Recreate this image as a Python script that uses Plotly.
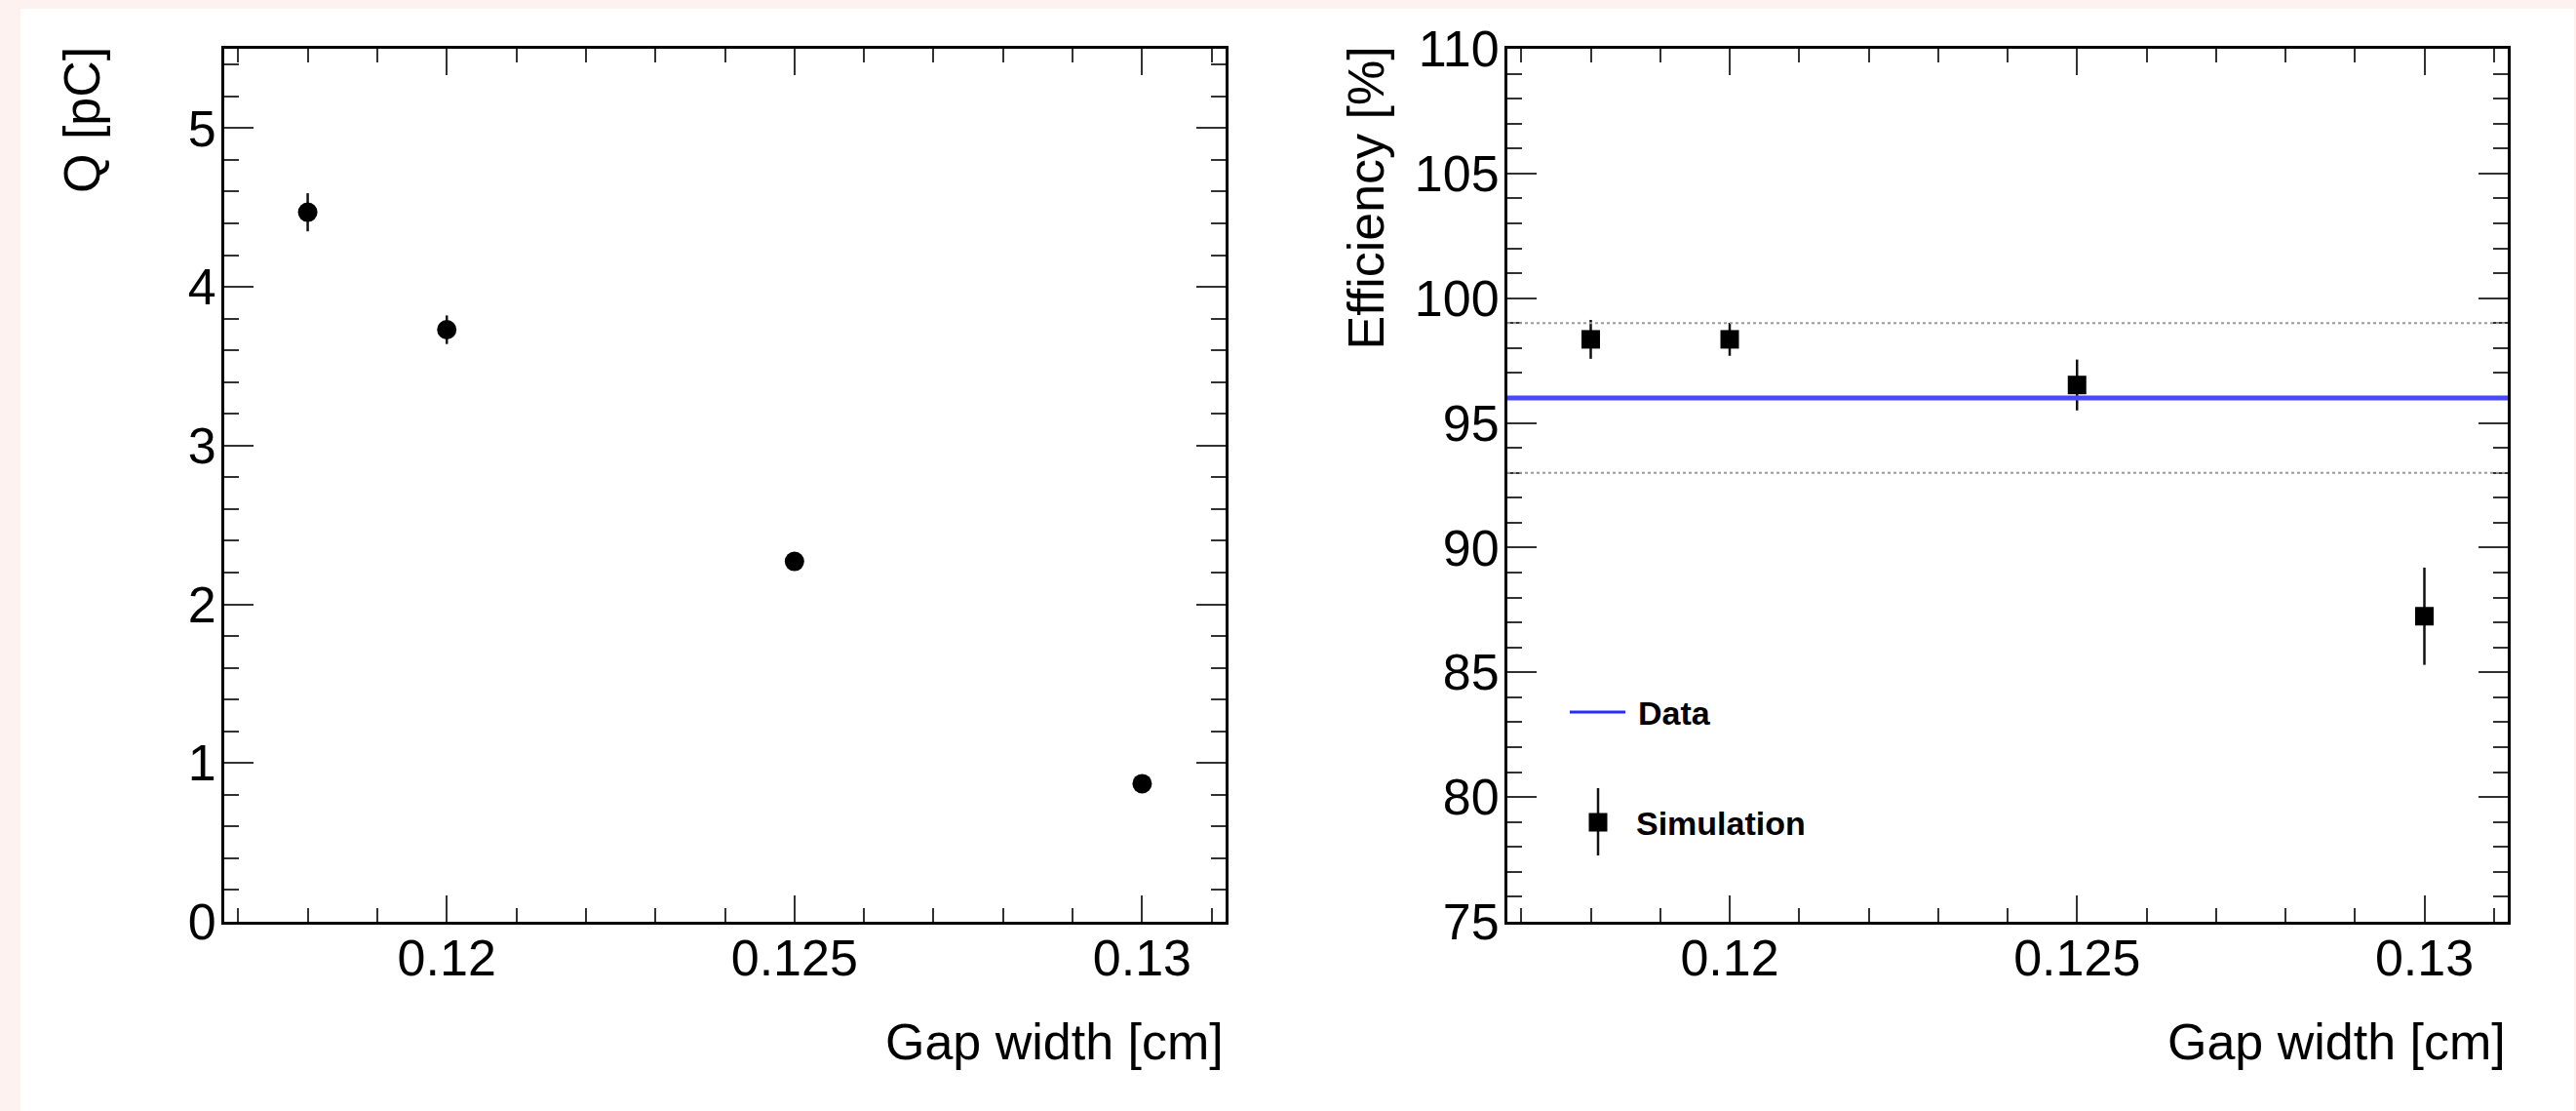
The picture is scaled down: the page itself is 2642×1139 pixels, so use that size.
import plotly.graph_objects as go

# ---------------- data ----------------
gap_width = [0.118, 0.120, 0.125, 0.130]          # cm
charge = [4.47, 3.73, 2.27, 0.87]                 # pC
charge_err = [0.12, 0.09, 0.04, 0.04]
sim_eff = [98.35, 98.35, 96.52, 87.25]            # %
sim_eff_err = [0.78, 0.66, 1.02, 1.95]
data_eff = 96.0                                    # measured efficiency [%]
data_eff_err = 3.0

x_range = [0.1168, 0.1312]
q_range = [0.0, 5.5]
eff_range = [75.0, 110.0]

W, H = 2642, 1139
FONT = "Liberation Sans, Arial, Helvetica, sans-serif"


def px(x):
    return x / W


def py(y):
    return (H - y) / H


fig = go.Figure()

# left panel: charge
fig.add_trace(go.Scatter(
    x=gap_width, y=charge, mode="markers",
    marker=dict(symbol="circle", size=20, color="black"),
    error_y=dict(type="data", array=charge_err, color="#111", thickness=2.5, width=0),
    xaxis="x", yaxis="y", showlegend=False))

# right panel: simulation efficiency
fig.add_trace(go.Scatter(
    x=gap_width, y=sim_eff, mode="markers",
    marker=dict(symbol="square", size=19, color="black"),
    error_y=dict(type="data", array=sim_eff_err, color="#111", thickness=2.5, width=0),
    xaxis="x2", yaxis="y2", showlegend=False))

axis_common = dict(
    showline=True, linecolor="black", linewidth=3, mirror="ticks",
    ticks="inside", tickcolor="#333", tickwidth=2,
    showgrid=False, zeroline=False, automargin=False,
    tickfont=dict(family=FONT, size=52, color="black"),
)

x_dom_l = [px(230), px(1257)]
x_dom_r = [px(1546), px(2572)]
y_dom = [py(945), py(50)]

fig.update_layout(
    template="none",
    width=W, height=H,
    margin=dict(l=0, r=0, t=0, b=0, pad=0, autoexpand=False),
    paper_bgcolor="#fdf2ef",
    plot_bgcolor="white",
    showlegend=False,
    xaxis=dict(domain=x_dom_l, range=x_range, anchor="y", dtick=0.005, tick0=0, ticklen=27,
               minor=dict(dtick=0.001, tick0=0, ticklen=14, ticks="inside", tickcolor="#333", tickwidth=2),
               ticklabelstandoff=-10, **axis_common),
    yaxis=dict(domain=y_dom, range=q_range, anchor="x", dtick=1, tick0=0, ticklen=30,
               minor=dict(dtick=0.2, tick0=0, ticklen=15, ticks="inside", tickcolor="#333", tickwidth=2),
               ticklabelstandoff=-5, **axis_common),
    xaxis2=dict(domain=x_dom_r, range=x_range, anchor="y2", dtick=0.005, tick0=0, ticklen=27,
                minor=dict(dtick=0.001, tick0=0, ticklen=14, ticks="inside", tickcolor="#333", tickwidth=2),
                ticklabelstandoff=-10, **axis_common),
    yaxis2=dict(domain=y_dom, range=eff_range, anchor="x2", dtick=5, tick0=0, ticklen=30,
                minor=dict(dtick=1, tick0=0, ticklen=15, ticks="inside", tickcolor="#333", tickwidth=2),
                ticklabelstandoff=-5, **axis_common),
)

shapes = [
    # white canvas inside the pink page border
    dict(type="rect", xref="paper", yref="paper", x0=px(21), x1=px(2640), y0=0, y1=py(9),
         fillcolor="white", line=dict(width=0), layer="below"),
    # data band limits (dotted)
    dict(type="line", xref="x2 domain", yref="y2", x0=0, x1=1,
         y0=data_eff + data_eff_err, y1=data_eff + data_eff_err,
         line=dict(color="#9a9a9a", width=2, dash="dot")),
    dict(type="line", xref="x2 domain", yref="y2", x0=0, x1=1,
         y0=data_eff - data_eff_err, y1=data_eff - data_eff_err,
         line=dict(color="#9a9a9a", width=2, dash="dot")),
    # data central value
    dict(type="line", xref="x2 domain", yref="y2", x0=0, x1=1,
         y0=data_eff, y1=data_eff, line=dict(color="#4848ff", width=5)),
    # legend: Data
    dict(type="line", xref="paper", yref="paper", x0=px(1610), x1=px(1667), y0=py(730), y1=py(730),
         line=dict(color="#2a2aff", width=3)),
    # legend: Simulation (marker + error bar)
    dict(type="line", xref="paper", yref="paper", x0=px(1639), x1=px(1639), y0=py(877), y1=py(808),
         line=dict(color="#111", width=2.5)),
    dict(type="rect", xref="paper", yref="paper", x0=px(1629.5), x1=px(1648.5),
         y0=py(852.5), y1=py(833.5), fillcolor="black", line=dict(width=0)),
]
fig.update_layout(shapes=shapes)

title_font = dict(family=FONT, size=52, color="black")
annotations = [
    dict(text="Gap width [cm]", xref="paper", yref="paper", x=px(1257), y=py(1068),
         xanchor="right", yanchor="middle", showarrow=False, font=title_font),
    dict(text="Gap width [cm]", xref="paper", yref="paper", x=px(2572), y=py(1068),
         xanchor="right", yanchor="middle", showarrow=False, font=title_font),
    dict(text="Q [pC]", xref="paper", yref="paper", x=px(84), y=py(46),
         xanchor="center", yanchor="top", textangle=-90, showarrow=False, font=title_font),
    dict(text="Efficiency [%]", xref="paper", yref="paper", x=px(1400), y=py(46),
         xanchor="center", yanchor="top", textangle=-90, showarrow=False, font=title_font),
    dict(text="<b>Data</b>", xref="paper", yref="paper", x=px(1678), y=py(731),
         xanchor="left", yanchor="middle", showarrow=False,
         font=dict(family=FONT, size=34, color="black")),
    dict(text="<b>Simulation</b>", xref="paper", yref="paper", x=px(1676), y=py(844),
         xanchor="left", yanchor="middle", showarrow=False,
         font=dict(family=FONT, size=34, color="black")),
]
fig.update_layout(annotations=annotations)

fig.write_html(
    "out.html",
    config={"displayModeBar": False, "responsive": False},
    post_script="document.body.style.margin='0';document.body.style.overflow='hidden';",
)
